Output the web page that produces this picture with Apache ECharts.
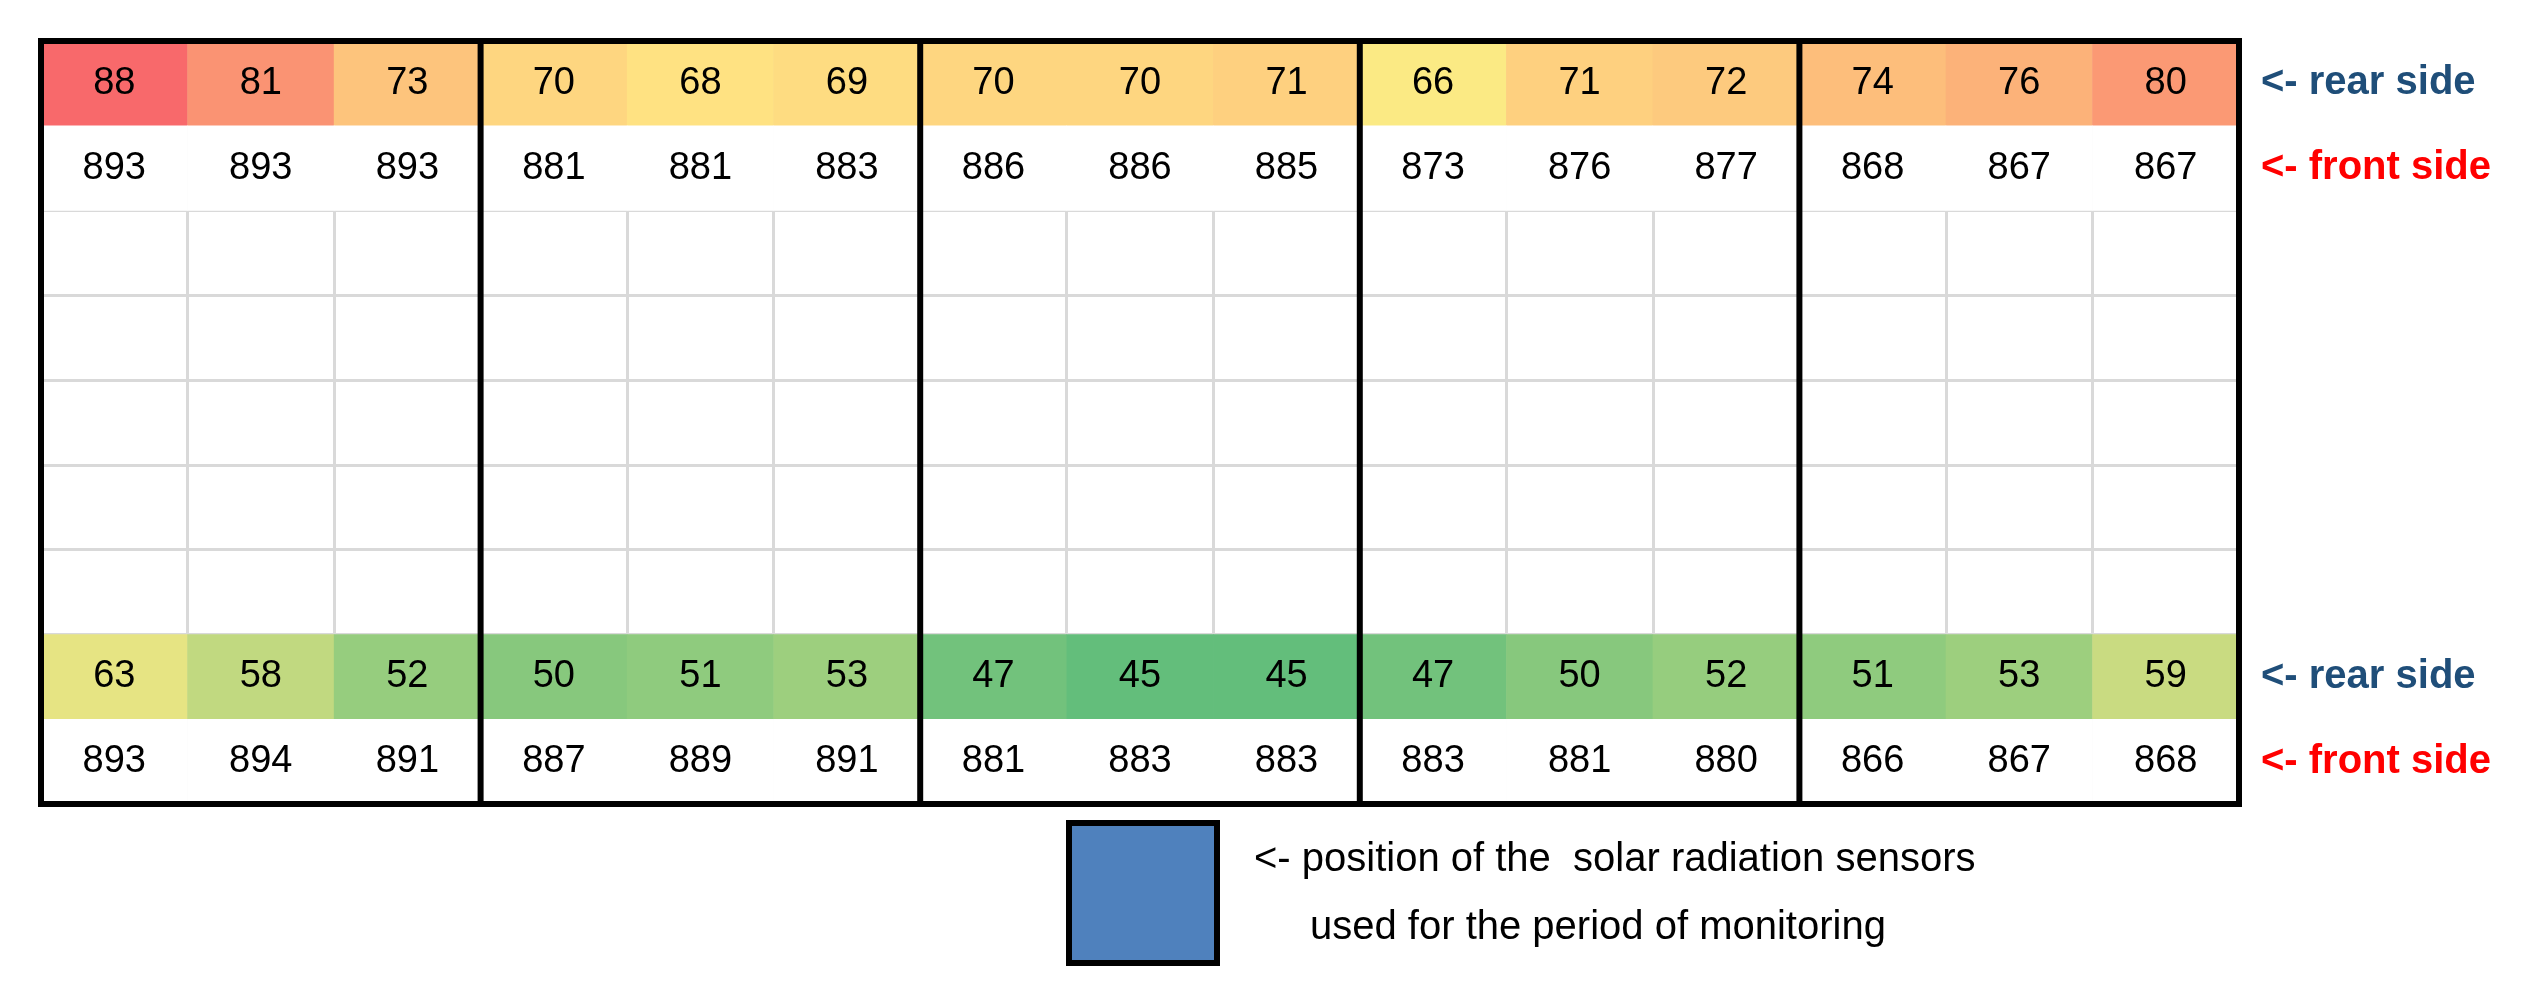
<!DOCTYPE html>
<html>
<head>
<meta charset="utf-8">
<script src="https://cdn.jsdelivr.net/npm/echarts@6/dist/echarts.min.js"></script>
<style>html,body{margin:0;background:#fff}#c{width:2548px;height:993px}</style>
</head>
<body>
<div id="c"></div>
<script>
// columns 1..15, rows 0..8 from top
var cols = ["1","2","3","4","5","6","7","8","9","10","11","12","13","14","15"];
var rows = ["r0","r1","r2","r3","r4","r5","r6","r7","r8"];
var rowLabels = ["<- rear side", "<- front side", "", "", "", "", "", "<- rear side", "<- front side"];
var rearTop = [88, 81, 73, 70, 68, 69, 70, 70, 71, 66, 71, 72, 74, 76, 80];
var frontTop = [893, 893, 893, 881, 881, 883, 886, 886, 885, 873, 876, 877, 868, 867, 867];
var rearBottom = [63, 58, 52, 50, 51, 53, 47, 45, 45, 47, 50, 52, 51, 53, 59];
var frontBottom = [893, 894, 891, 887, 889, 891, 881, 883, 883, 883, 881, 880, 866, 867, 868];
var groupEdges = [0, 3, 6, 9, 12, 15];

var FONT = "'Liberation Sans Narrow', 'Liberation Sans', sans-serif";

function toCells(vals, row) {
    return vals.map((v, i) => [i, row, v]);
}

var chart = echarts.init(document.getElementById("c"));
chart.setOption({
    animation: false,
    grid: { left: 41, right: 309, top: 41, bottom: 189 },
    xAxis: {
        type: "category", data: cols,
        axisLine: { show: false }, axisTick: { show: false }, axisLabel: { show: false },
        splitLine: { show: true, interval: 0, lineStyle: { color: "#d9d9d9", width: 3 } }
    },
    yAxis: [
        {
            type: "category", data: rows, inverse: true,
            axisLine: { show: false }, axisTick: { show: false }, axisLabel: { show: false },
            splitLine: { show: true, interval: 0, lineStyle: { color: "#d9d9d9", width: 3 } }
        },
        {
            type: "category", data: rows, inverse: true, position: "right",
            axisLine: { show: false }, axisTick: { show: false },
            axisLabel: {
                margin: 22, fontFamily: FONT, fontSize: 40, fontWeight: "bold",
                formatter: (v, i) => {
                    var t = rowLabels[i];
                    if (!t) return "";
                    return t.indexOf("rear") >= 0 ? "{r|" + t + "}" : "{f|" + t + "}";
                },
                rich: {
                    r: { color: "#1f4e79", fontFamily: FONT, fontSize: 40, fontWeight: "bold" },
                    f: { color: "#ff0000", fontFamily: FONT, fontSize: 40, fontWeight: "bold" }
                }
            }
        }
    ],
    visualMap: {
        show: false, seriesIndex: 0, dimension: 2, min: 45, max: 88,
        inRange: { color: ["#63be7b", "#ffeb84", "#f8696b"] }
    },
    series: [
        {
            type: "heatmap",
            data: toCells(rearTop, 0).concat(toCells(rearBottom, 7)),
            label: { show: true, color: "#000", fontFamily: FONT, fontSize: 38 }
        },
        {
            type: "heatmap",
            data: toCells(frontTop, 1).concat(toCells(frontBottom, 8)),
            itemStyle: { color: "#fff" },
            label: { show: true, color: "#000", fontFamily: FONT, fontSize: 38 }
        },
        {
            // thick group borders and outer frame
            type: "custom",
            data: groupEdges.map((e, i) => [i, 0]),
            silent: true,
            z: 10,
            renderItem: (params, api) => {
                var cs = params.coordSys;
                var bw = cs.width / cols.length;
                var x = cs.x + groupEdges[params.dataIndex] * bw;
                var children = [{
                    type: "line",
                    shape: { x1: x, y1: cs.y - 3, x2: x, y2: cs.y + cs.height + 3 },
                    style: { stroke: "#000", lineWidth: 6 }
                }];
                if (params.dataIndex === 0) {
                    children.push({
                        type: "line",
                        shape: { x1: cs.x - 3, y1: cs.y, x2: cs.x + cs.width + 3, y2: cs.y },
                        style: { stroke: "#000", lineWidth: 6 }
                    }, {
                        type: "line",
                        shape: { x1: cs.x - 3, y1: cs.y + cs.height, x2: cs.x + cs.width + 3, y2: cs.y + cs.height },
                        style: { stroke: "#000", lineWidth: 6 }
                    });
                }
                return { type: "group", children: children };
            }
        }
    ],
    graphic: [
        {
            type: "rect", left: 1066, top: 820,
            shape: { width: 148, height: 140 },
            style: { fill: "#4f81bd", stroke: "#000", lineWidth: 6 }
        },
        {
            type: "text", left: 1254, top: 840,
            style: { text: "<- position of the  solar radiation sensors", fontFamily: FONT, fontSize: 40, fill: "#000" }
        },
        {
            type: "text", left: 1310, top: 908,
            style: { text: "used for the period of monitoring", fontFamily: FONT, fontSize: 40, fill: "#000" }
        }
    ]
});
</script>
</body>
</html>
